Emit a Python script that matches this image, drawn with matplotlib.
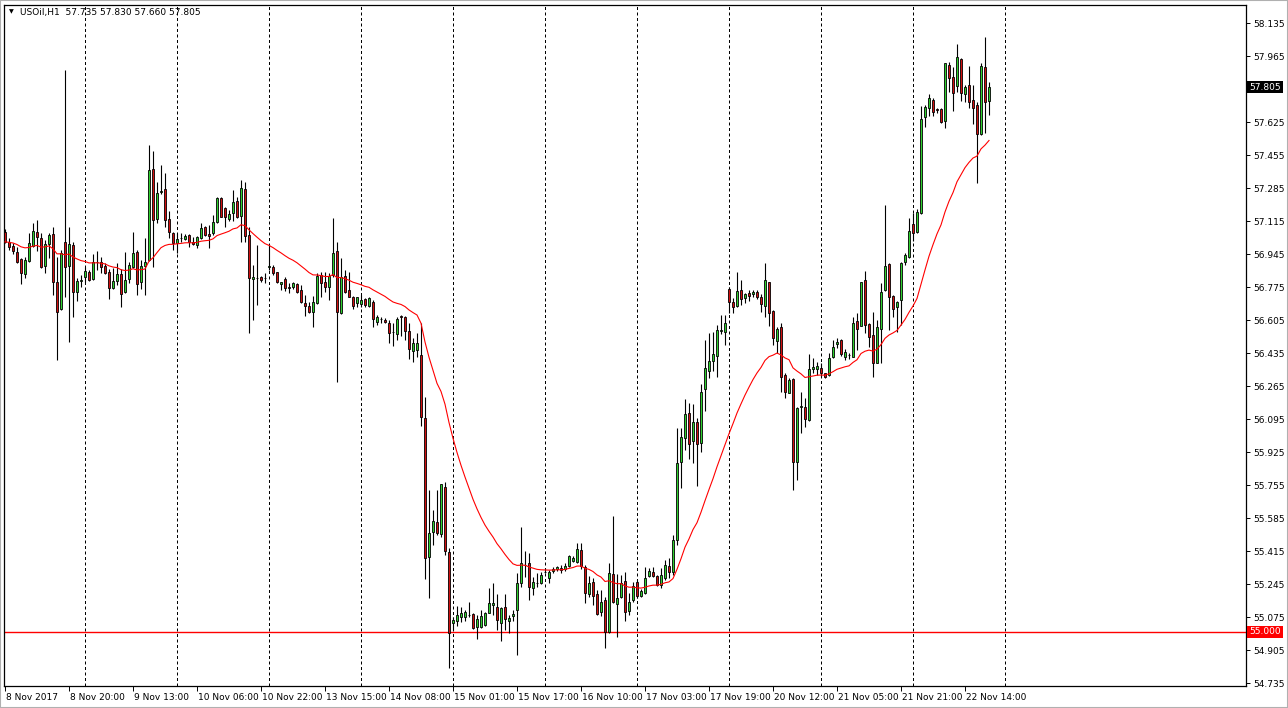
import numpy as np
import pandas as pd
import matplotlib
matplotlib.use("Agg")
import matplotlib.pyplot as plt
import matplotlib.transforms as mtransforms
from matplotlib.patches import Rectangle

# USOil H1 candles, 8 Nov 04:00 -> 22 Nov
open_ = [57.059, 57.008, 56.987, 56.956, 56.920, 56.843, 56.910, 56.987, 57.059, 57.028,
         56.884, 56.997, 57.049, 56.802, 56.663, 57.008, 56.884, 56.992, 56.750, 56.807,
         56.827, 56.853, 56.817, 56.905, 56.905, 56.884, 56.853, 56.771, 56.807, 56.843,
         56.750, 56.817, 56.879, 56.956, 56.802, 56.884, 56.915, 57.384, 57.126, 57.265,
         57.281, 57.126, 57.054, 57.003, 57.028, 57.023, 57.044, 57.008, 56.992, 57.028,
         57.085, 57.049, 57.054, 57.111, 57.234, 57.183, 57.126, 57.157, 57.219, 57.142,
         57.281, 57.044, 56.817, 56.822, 56.827, 56.822, 56.879, 56.879, 56.853, 56.791,
         56.817, 56.776, 56.776, 56.791, 56.761, 56.694, 56.678, 56.647, 56.694, 56.838,
         56.802, 56.776, 56.838, 56.961, 56.642, 56.833, 56.761, 56.724, 56.694, 56.688,
         56.714, 56.678, 56.699, 56.596, 56.611, 56.606, 56.591, 56.544, 56.534, 56.627,
         56.621, 56.549, 56.446, 56.452, 56.426, 56.101, 55.385, 55.514, 55.566, 55.504,
         55.746, 55.411, 55.046, 55.056, 55.076, 55.076, 55.087, 55.092, 55.025, 55.025,
         55.035, 55.097, 55.138, 55.128, 55.046, 55.128, 55.056, 55.082, 55.113, 55.252,
         55.344, 55.355, 55.226, 55.252, 55.252, 55.308, 55.277, 55.313, 55.324, 55.329,
         55.324, 55.339, 55.365, 55.360, 55.422, 55.334, 55.195, 55.257, 55.195, 55.102,
         55.164, 54.999, 55.298, 55.143, 55.179, 55.262, 55.107, 55.164, 55.257, 55.185,
         55.200, 55.288, 55.308, 55.288, 55.241, 55.277, 55.339, 55.308, 55.473, 55.875,
         55.998, 56.127, 55.983, 56.081, 55.973, 56.251, 56.343, 56.395, 56.421, 56.549,
         56.544, 56.766, 56.699, 56.678, 56.761, 56.719, 56.745, 56.740, 56.750, 56.724,
         56.678, 56.802, 56.652, 56.498, 56.570, 56.323, 56.230, 56.302, 55.875, 56.158,
         56.158, 56.091, 56.354, 56.354, 56.359, 56.333, 56.323, 56.415, 56.482, 56.503,
         56.415, 56.426, 56.415, 56.601, 56.575, 56.812, 56.585, 56.529, 56.385, 56.560,
         56.761, 56.894, 56.730, 56.673, 56.709, 56.905, 56.930, 57.100, 57.059, 57.157,
         57.651, 57.698, 57.739, 57.693, 57.693, 57.631, 57.919, 57.857, 57.811, 57.950,
         57.770, 57.816, 57.739, 57.713, 57.564, 57.909, 57.735]
high = [57.075, 57.028, 57.003, 56.982, 56.925, 56.930, 57.054, 57.106, 57.121, 57.054,
        57.018, 57.054, 57.085, 56.930, 56.967, 57.894, 57.085, 57.008, 56.822, 56.838,
        56.879, 56.864, 56.946, 56.961, 56.930, 56.900, 56.869, 56.874, 56.900, 56.869,
        56.956, 56.905, 57.059, 56.967, 56.915, 57.028, 57.507, 57.476, 57.317, 57.404,
        57.363, 57.167, 57.059, 57.054, 57.054, 57.049, 57.049, 57.033, 57.039, 57.106,
        57.090, 57.095, 57.147, 57.239, 57.239, 57.188, 57.173, 57.276, 57.239, 57.327,
        57.317, 57.085, 56.889, 56.992, 56.833, 56.848, 56.997, 56.889, 56.855, 56.804,
        56.827, 56.797, 56.802, 56.797, 56.786, 56.735, 56.699, 56.730, 56.848, 56.853,
        56.853, 56.848, 57.131, 57.008, 56.925, 56.864, 56.853, 56.730, 56.726, 56.735,
        56.719, 56.724, 56.709, 56.632, 56.621, 56.616, 56.606, 56.591, 56.621, 56.632,
        56.627, 56.591, 56.513, 56.539, 56.591, 56.209, 55.731, 55.628, 55.731, 55.761,
        55.772, 55.432, 55.076, 55.133, 55.128, 55.113, 55.154, 55.097, 55.087, 55.113,
        55.102, 55.226, 55.252, 55.195, 55.128, 55.195, 55.087, 55.113, 55.303, 55.540,
        55.416, 55.406, 55.282, 55.303, 55.308, 55.329, 55.319, 55.334, 55.339, 55.344,
        55.355, 55.396, 55.391, 55.458, 55.458, 55.344, 55.288, 55.277, 55.216, 55.216,
        55.179, 55.355, 55.597, 55.298, 55.293, 55.308, 55.200, 55.257, 55.267, 55.221,
        55.334, 55.329, 55.334, 55.293, 55.329, 55.370, 55.380, 55.499, 56.050, 56.050,
        56.199, 56.179, 56.173, 56.101, 56.276, 56.503, 56.539, 56.544, 56.580, 56.632,
        56.632, 56.776, 56.719, 56.853, 56.812, 56.745, 56.761, 56.761, 56.761, 56.740,
        56.900, 56.804, 56.658, 56.570, 56.591, 56.333, 56.307, 56.307, 56.158, 56.235,
        56.204, 56.431, 56.410, 56.390, 56.385, 56.335, 56.436, 56.503, 56.513, 56.508,
        56.457, 56.436, 56.621, 56.642, 56.804, 56.858, 56.591, 56.647, 56.606, 56.797,
        57.198, 56.900, 56.735, 56.704, 56.905, 56.951, 57.131, 57.157, 57.178, 57.708,
        57.713, 57.770, 57.749, 57.698, 57.698, 57.930, 57.935, 57.909, 58.027, 57.955,
        57.816, 57.914, 57.816, 57.729, 57.930, 58.063, 57.830]
low = [57.003, 56.967, 56.946, 56.900, 56.791, 56.822, 56.905, 56.982, 56.961, 56.874,
       56.848, 56.925, 56.735, 56.400, 56.658, 56.724, 56.493, 56.621, 56.704, 56.776,
       56.802, 56.807, 56.812, 56.864, 56.848, 56.845, 56.714, 56.766, 56.786, 56.673,
       56.745, 56.797, 56.874, 56.735, 56.766, 56.735, 56.912, 56.879, 57.106, 57.255,
       57.085, 57.028, 56.967, 56.951, 57.008, 57.018, 56.982, 56.992, 56.977, 57.023,
       57.039, 56.977, 57.044, 57.106, 57.134, 57.085, 57.116, 57.116, 57.131, 57.008,
       57.008, 56.539, 56.606, 56.683, 56.802, 56.797, 56.864, 56.838, 56.797, 56.761,
       56.755, 56.745, 56.766, 56.745, 56.694, 56.627, 56.642, 56.570, 56.688, 56.724,
       56.750, 56.709, 56.827, 56.287, 56.637, 56.745, 56.722, 56.663, 56.673, 56.673,
       56.673, 56.673, 56.570, 56.580, 56.591, 56.591, 56.488, 56.472, 56.503, 56.524,
       56.503, 56.405, 56.390, 56.415, 56.060, 55.272, 55.174, 55.447, 55.499, 55.488,
       55.396, 54.814, 55.010, 55.030, 55.051, 55.056, 55.076, 55.015, 54.963, 55.020,
       55.030, 55.095, 55.087, 55.010, 54.953, 55.010, 54.994, 55.056, 54.881, 55.231,
       55.282, 55.164, 55.190, 55.231, 55.246, 55.303, 55.252, 55.303, 55.313, 55.303,
       55.313, 55.334, 55.360, 55.355, 55.324, 55.149, 55.179, 55.138, 55.087, 55.082,
       54.916, 54.994, 55.149, 54.973, 55.174, 55.056, 55.087, 55.154, 55.174, 55.179,
       55.195, 55.282, 55.282, 55.236, 55.226, 55.267, 55.277, 55.293, 55.447, 55.741,
       55.937, 55.890, 55.870, 55.751, 55.926, 56.137, 56.307, 56.343, 56.312, 56.534,
       56.477, 56.642, 56.642, 56.673, 56.683, 56.694, 56.704, 56.724, 56.714, 56.647,
       56.621, 56.575, 56.477, 56.436, 56.235, 56.204, 56.228, 55.731, 55.782, 56.024,
       56.055, 56.086, 56.333, 56.323, 56.312, 56.307, 56.318, 56.410, 56.462, 56.421,
       56.400, 56.405, 56.413, 56.452, 56.573, 56.539, 56.467, 56.312, 56.383, 56.385,
       56.755, 56.555, 56.621, 56.544, 56.580, 56.889, 56.925, 57.013, 57.054, 57.152,
       57.600, 57.656, 57.656, 57.672, 57.621, 57.595, 57.780, 57.682, 57.780, 57.734,
       57.729, 57.698, 57.615, 57.312, 57.559, 57.569, 57.660]
close = [57.008, 56.982, 56.961, 56.905, 56.848, 56.915, 57.003, 57.064, 57.033, 56.879,
         56.997, 57.044, 56.802, 56.647, 56.951, 56.879, 56.997, 56.750, 56.807, 56.812,
         56.858, 56.812, 56.905, 56.903, 56.879, 56.848, 56.771, 56.807, 56.843, 56.740,
         56.812, 56.889, 56.951, 56.791, 56.884, 56.905, 57.379, 57.121, 57.260, 57.270,
         57.121, 57.059, 57.003, 57.023, 57.026, 57.039, 57.008, 56.997, 57.033, 57.080,
         57.044, 57.039, 57.111, 57.234, 57.136, 57.136, 57.152, 57.214, 57.136, 57.286,
         57.039, 56.822, 56.827, 56.820, 56.812, 56.820, 56.884, 56.848, 56.802, 56.802,
         56.771, 56.771, 56.797, 56.750, 56.699, 56.678, 56.647, 56.699, 56.833, 56.797,
         56.776, 56.833, 56.951, 56.647, 56.827, 56.750, 56.724, 56.678, 56.724, 56.709,
         56.683, 56.719, 56.611, 56.621, 56.609, 56.596, 56.539, 56.542, 56.611, 56.621,
         56.549, 56.457, 56.488, 56.488, 56.106, 55.380, 55.509, 55.571, 55.509, 55.759,
         55.416, 54.994, 55.061, 55.087, 55.097, 55.102, 55.085, 55.020, 55.066, 55.082,
         55.097, 55.149, 55.149, 55.061, 55.123, 55.066, 55.071, 55.092, 55.252, 55.355,
         55.342, 55.231, 55.257, 55.250, 55.293, 55.310, 55.308, 55.324, 55.334, 55.319,
         55.339, 55.391, 55.380, 55.427, 55.339, 55.200, 55.252, 55.185, 55.092, 55.154,
         54.999, 55.303, 55.154, 55.174, 55.252, 55.102, 55.154, 55.236, 55.185, 55.210,
         55.277, 55.313, 55.288, 55.241, 55.293, 55.344, 55.308, 55.473, 55.870, 56.003,
         56.122, 55.967, 56.081, 55.967, 56.235, 56.359, 56.395, 56.431, 56.555, 56.552,
         56.591, 56.699, 56.673, 56.755, 56.714, 56.740, 56.730, 56.750, 56.724, 56.688,
         56.812, 56.642, 56.513, 56.560, 56.312, 56.235, 56.297, 55.875, 56.153, 56.163,
         56.096, 56.354, 56.364, 56.369, 56.333, 56.312, 56.410, 56.467, 56.493, 56.431,
         56.441, 56.424, 56.591, 56.560, 56.802, 56.580, 56.518, 56.385, 56.570, 56.750,
         56.884, 56.724, 56.663, 56.699, 56.900, 56.941, 57.064, 57.054, 57.162, 57.641,
         57.703, 57.749, 57.677, 57.688, 57.626, 57.928, 57.852, 57.775, 57.960, 57.775,
         57.806, 57.729, 57.698, 57.564, 57.914, 57.729, 57.805]

# time axis labels (one every 16 bars) and day separators
label_bars = [0, 16, 32, 48, 64, 80, 96, 112, 128, 144, 160, 176, 192, 208, 224, 240]
label_text = ["8 Nov 2017", "8 Nov 20:00", "9 Nov 13:00", "10 Nov 06:00", "10 Nov 22:00",
              "13 Nov 15:00", "14 Nov 08:00", "15 Nov 01:00", "15 Nov 17:00", "16 Nov 10:00",
              "17 Nov 03:00", "17 Nov 19:00", "20 Nov 12:00", "21 Nov 05:00", "21 Nov 21:00",
              "22 Nov 14:00"]
day_starts = [20, 43, 66, 89, 112, 135, 158, 181, 204, 227, 250]

price_ticks = [58.135, 57.965, 57.625, 57.455, 57.285, 57.115, 56.945, 56.775, 56.605,
               56.435, 56.265, 56.095, 55.925, 55.755, 55.585, 55.415, 55.245, 55.075,
               54.905, 54.735]
level_line = 55.000
last_price = 57.805
ma_span = 24

W, H = 1288, 708
fig = plt.figure(figsize=(W / 100, H / 100), dpi=100)
fig.patch.set_facecolor("white")
ax = fig.add_axes([4 / W, (H - 686) / H, 1242 / W, 681 / H])

o = np.array(open_)
h = np.array(high)
l = np.array(low)
c = np.array(close)
x = np.arange(len(c))
up = c >= o
cols = np.where(up, "#2fd02f", "#d01010")

ax.vlines(x, l, h, color="black", lw=0.8, zorder=3)
body_lo = np.minimum(o, c)
body_h = np.maximum(np.abs(c - o), 0.002)
ax.bar(x, body_h, bottom=body_lo, width=0.72, color=cols,
       edgecolor="black", linewidth=0.6, zorder=4)

# moving average of closes
ma = pd.Series(c).ewm(span=ma_span, adjust=False).mean()
ax.plot(x, ma, color="#ff0000", lw=0.8, zorder=5)

ax.axhline(level_line, color="#ff0000", lw=1.0, zorder=2)
for d in day_starts:
    ax.axvline(d, color="black", lw=0.72, ls=(0, (3, 2.5)), zorder=1)

ax.set_xlim(-0.25, 310.25)
ax.set_ylim(54.721, 58.228)

for s in ax.spines.values():
    s.set_color("black")
    s.set_linewidth(0.9)

ax.yaxis.tick_right()
ax.set_yticks(price_ticks)
ax.set_yticklabels([f"{v:.3f}" for v in price_ticks])
ax.tick_params(axis="y", direction="out", length=3, width=0.7, pad=2,
               labelsize=6.5, colors="black")

ax.set_xticks(label_bars)
ax.set_xticklabels(label_text)
ax.tick_params(axis="x", direction="out", length=3.5, width=0.7, pad=1.5,
               labelsize=6.5, colors="black")
shift = mtransforms.ScaledTranslation(1 / 100, 0, fig.dpi_scale_trans)
for lab in ax.get_xticklabels():
    lab.set_horizontalalignment("left")
    lab.set_transform(lab.get_transform() + shift)

# price boxes on the right scale
trans = mtransforms.blended_transform_factory(ax.transAxes, ax.transData)
ax.text(1.0025, last_price, f"{last_price:.3f}", transform=trans, ha="left", va="center",
        fontsize=6.5, color="white", zorder=10, clip_on=False,
        bbox=dict(boxstyle="square,pad=0.2", fc="black", ec="none"))
ax.text(1.0025, level_line, f"{level_line:.3f}", transform=trans, ha="left", va="center",
        fontsize=6.5, color="white", zorder=10, clip_on=False,
        bbox=dict(boxstyle="square,pad=0.2", fc="#ff0000", ec="none"))

# header
fig.text(11 / W, 1 - 12 / H, "\u25BC", fontsize=4.5, ha="center", va="center", color="black")
fig.text(20 / W, 1 - 12.5 / H, "USOil,H1  %.3f %.3f %.3f %.3f" % (o[-1], h[-1], l[-1], c[-1]),
         fontsize=6.5, ha="left", va="center", color="black")

fig.patches.append(Rectangle((0, 0), 1, 1, transform=fig.transFigure, fill=False,
                             ec="#b0b0b0", lw=1.5))

fig.savefig("out.png", dpi=100)
